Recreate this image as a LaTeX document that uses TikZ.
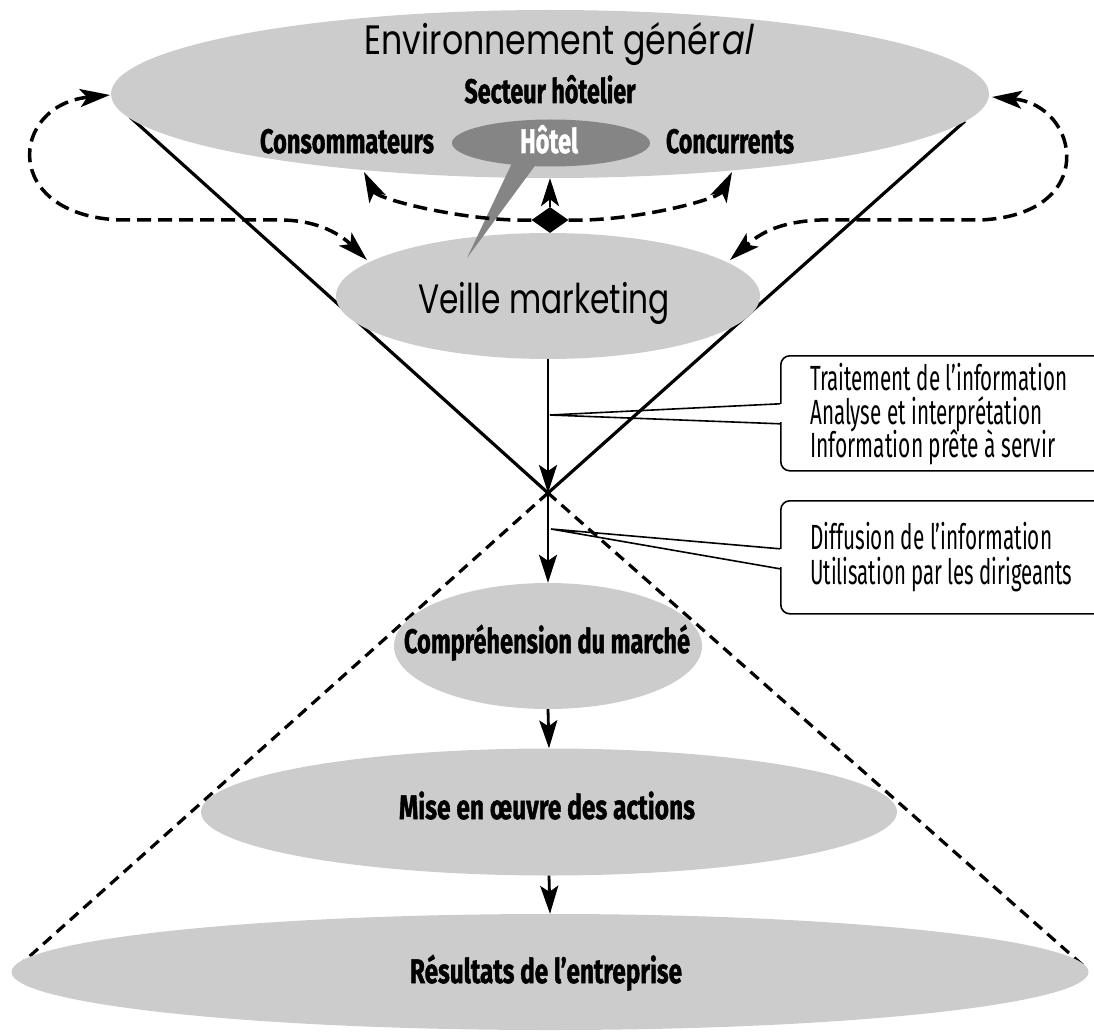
\documentclass[tikz,border=0pt]{standalone}
\usepackage{fontspec}
\usetikzlibrary{arrows.meta,shapes.geometric,calc}
\newfontfamily\geofont{Poppins}
\newfontfamily\geoit{Poppins}[FakeSlant=0.22]
\newfontfamily\labfont{Fira Sans}[FakeBold=1.5]
\newfontfamily\boxfont{Fira Sans}
\newcommand\fitw[2]{\resizebox{#1}{\height}{#2}}
\definecolor{ellgray}{gray}{0.8}
\definecolor{hotgray}{gray}{0.52}
\pgfdeclarelayer{bg}
\pgfsetlayers{bg,main}
\tikzset{
  ellst/.style={ellipse, fill=ellgray, draw=none, inner sep=0pt},
  bigtxt/.style={inner sep=0pt, anchor=base, font=\geofont\fontsize{41}{44}\selectfont},
  labtxt/.style={inner sep=0pt, anchor=base, font=\labfont\bfseries\fontsize{34}{36}\selectfont},
  boxtxt/.style={inner sep=0pt, anchor=base west, font=\boxfont\fontsize{35}{36}\selectfont},
  boxst/.style={draw=black, line width=1.6pt, fill=white, rounded corners=9pt, anchor=north west, minimum width=330pt, inner sep=0pt},
  ptr/.style={line width=1.6pt, line join=miter},
  flowarr/.style={line width=2.8pt, -{Stealth[length=28pt,width=18pt,inset=6pt]}},
  dasharr/.style={line width=3.5pt, dash pattern=on 14pt off 7pt, -{Stealth[length=30pt,width=18pt,inset=7pt]}},
  dashboth/.style={line width=3.5pt, dash pattern=on 14pt off 7pt, {Stealth[length=30pt,width=18pt,inset=7pt]}-{Stealth[length=30pt,width=18pt,inset=7pt]}},
  conesolid/.style={line width=3.2pt},
  conedash/.style={line width=3.2pt, dash pattern=on 11pt off 7pt},
}
\begin{document}
\begin{tikzpicture}[x=1pt,y=-1pt]
\useasboundingbox (0,0) rectangle (1094,1032);

% key coordinates
\coordinate (apex) at (548,493);
\coordinate (coneTL) at (130,117);
\coordinate (coneTR) at (965,121);
\coordinate (coneBL) at (12,972);
\coordinate (coneBR) at (1086,968);

% ellipses
\node[ellst, minimum width=878pt, minimum height=168pt] (env) at (550,94) {};
\node[ellst, minimum width=424pt, minimum height=126pt] (veille) at (548,296) {};
\node[ellst, minimum width=308pt, minimum height=126pt] (compr) at (548,646) {};
\node[ellst, minimum width=696pt, minimum height=127pt] (mise) at (549,812) {};
\node[ellst, minimum width=1077pt, minimum height=116pt] (result) at (550,972) {};
\node[ellipse, fill=hotgray, inner sep=0pt, minimum width=198pt, minimum height=47pt] (hotel) at (551,143) {};

% cone lines behind
\begin{pgfonlayer}{bg}
  \draw[conesolid] (coneTL) -- (apex) -- (coneTR);
  \draw[conedash] (apex) -- (coneBL);
  \draw[conedash] (apex) -- (coneBR);
\end{pgfonlayer}

% speech tail of Hotel
\coordinate (tailA) at (512,163);
\coordinate (tailB) at (537,163);
\coordinate (tailTip) at (467,258);
\fill[hotgray] (tailA) -- (tailTip) -- (tailB) -- cycle;

% texts
\node[bigtxt] (tenv) at (558,55) {\fitw{387pt}{Environnement génér{\geoit al}}};
\node[bigtxt] (tveille) at (544,313) {\fitw{252pt}{Veille marketing}};
\node[labtxt] (tsect) at (550,103) {\fitw{171pt}{Secteur hôtelier}};
\node[labtxt] (tcons) at (347,153) {\fitw{174pt}{Consommateurs}};
\node[labtxt, text=white] (thotel) at (549,153) {\fitw{58pt}{Hôtel}};
\node[labtxt] (tconc) at (730,153) {\fitw{128pt}{Concurrents}};
\node[labtxt] (tcomp) at (547,653) {\fitw{286pt}{Compréhension du marché}};
\node[labtxt] (tmise) at (547,819) {\fitw{296pt}{Mise en œuvre des actions}};
\node[labtxt] (tres) at (546,983) {\fitw{272pt}{Résultats de l’entreprise}};

% main flow arrows
\draw[flowarr] (veille.south) -- (apex);
\draw[flowarr] (apex) -- (compr.north);
\draw[flowarr] (compr.south) -- (mise.north);
\draw[flowarr] (mise.south) -- (result.north);

% diamond hub
\node[diamond, fill=black, minimum width=37pt, minimum height=26pt, inner sep=0pt] (dia) at (550,220) {};
\draw[line width=2.8pt, -{Stealth[length=28pt,width=18pt,inset=7pt]}] (dia.north) -- (env.south);

\coordinate (consTip) at (364,172);
\coordinate (concTip) at (732,172);
\draw[dasharr] (dia.west) .. controls (470,222) and (378,200) .. (consTip);
\draw[dasharr] (dia.east) .. controls (630,222) and (718,200) .. (concTip);

% big loops
\coordinate (envW) at (110,95);
\coordinate (envE) at (992,97);
\coordinate (veilleNW) at (367,260);
\coordinate (veilleNE) at (730,260);
\draw[dashboth] (envW) .. controls (10,105) and (0,215) .. (120,220) -- (280,220) .. controls (320,220) and (342,236) .. (veilleNW);
\draw[dashboth] (envE) .. controls (1080,105) and (1100,215) .. (980,220) -- (820,220) .. controls (775,222) and (757,236) .. (veilleNE);

% callout boxes
\node[boxst, minimum height=115pt] (box1) at (780,355) {};
\node[boxst, minimum height=113pt] (box2) at (780,500) {};
\fill[white] (778.5,404) rectangle (781.5,422);
\fill[white] (778.5,549) rectangle (781.5,567);
\coordinate (ptr1) at (550,415);
\coordinate (ptr2) at (551,529);
\draw[ptr] ($(box1.west)+(0,-9.5)$) -- (ptr1) -- ($(box1.west)+(0,10.5)$);
\draw[ptr] ($(box2.west)+(0,-8.5)$) -- (ptr2) -- ($(box2.west)+(0,11.5)$);

\node[boxtxt] (b1a) at (810,390) {\fitw{257pt}{Traitement de l’information}};
\node[boxtxt] (b1b) at (810,424) {\fitw{232pt}{Analyse et interprétation}};
\node[boxtxt] (b1c) at (810,457) {\fitw{245pt}{Information prête à servir}};
\node[boxtxt] (b2a) at (810,549) {\fitw{242pt}{Diffusion de l’information}};
\node[boxtxt] (b2b) at (810,584) {\fitw{262pt}{Utilisation par les dirigeants}};
\end{tikzpicture}
\end{document}
